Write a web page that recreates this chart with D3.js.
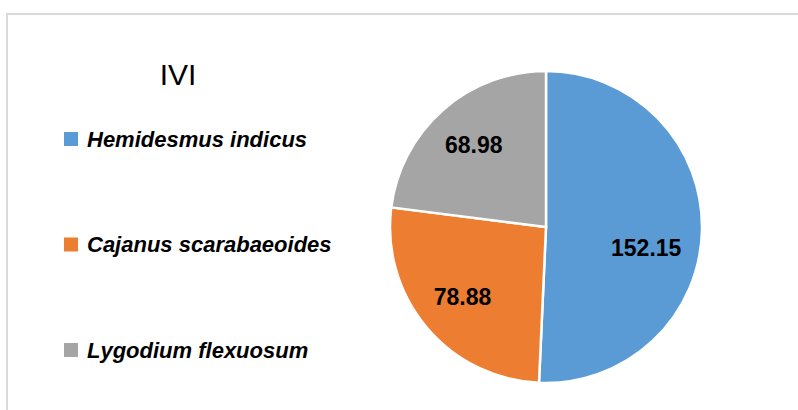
<!DOCTYPE html>
<html lang="en">
<head>
    <meta charset="UTF-8">
    <title>IVI</title>
    <script src="https://cdnjs.cloudflare.com/ajax/libs/d3/7.8.2/d3.min.js"></script>
    <style>
        body { margin: 0; background: #fff; }
        svg { display: block; font-family: "Liberation Sans", Arial, sans-serif; }
    </style>
</head>
<body>
    <div id="chart"></div>
    <script>
        // data
        const species = ["Hemidesmus indicus", "Cajanus scarabaeoides", "Lygodium flexuosum"];
        const ivi = [152.15, 78.88, 68.98];
        const colors = ["#5B9BD5", "#ED7D31", "#A5A5A5"];
        const title = "IVI";

        const width = 798, height = 410;
        const svg = d3.select("#chart").append("svg")
            .attr("width", width)
            .attr("height", height);

        // chart area border (runs off right and bottom edges)
        svg.append("rect")
            .attr("x", 7).attr("y", 14)
            .attr("width", 820).attr("height", 420)
            .attr("fill", "none")
            .attr("stroke", "#d9d9d9")
            .attr("stroke-width", 2);

        svg.append("text")
            .attr("x", 178).attr("y", 85)
            .attr("text-anchor", "middle")
            .attr("font-size", 30)
            .attr("fill", "#000")
            .text(title);

        // pie
        const cx = 546, cy = 227, r = 156;
        const data = species.map((s, i) => ({ name: s, value: ivi[i], color: colors[i] }));
        const pie = d3.pie().value(d => d.value).sort(null);
        const arc = d3.arc().innerRadius(0).outerRadius(r);
        const labelArc = d3.arc().innerRadius(r * 0.7).outerRadius(r * 0.7);

        const g = svg.append("g").attr("transform", `translate(${cx},${cy})`);
        const slices = g.selectAll("g.slice")
            .data(pie(data))
            .enter().append("g").attr("class", "slice");

        slices.append("path")
            .attr("d", arc)
            .attr("fill", d => d.data.color)
            .attr("stroke", "#fff")
            .attr("stroke-width", 2.5);

        // big slice label sits a bit lower, like the original
        slices.append("text")
            .attr("transform", d => {
                const [x, y] = labelArc.centroid(d);
                const nudge = (d.endAngle - d.startAngle) > Math.PI ? 18 : 0;
                return `translate(${x - nudge / 2},${y + nudge})`;
            })
            .attr("text-anchor", "middle")
            .attr("dy", "0.35em")
            .attr("font-size", 23)
            .attr("font-weight", "bold")
            .attr("fill", "#000")
            .text(d => d.data.value.toFixed(2));

        // legend
        const legendY = d3.scalePoint().domain(species).range([139, 350]);
        const legend = svg.selectAll("g.legend")
            .data(data)
            .enter().append("g")
            .attr("class", "legend")
            .attr("transform", d => `translate(64,${legendY(d.name)})`);

        legend.append("rect")
            .attr("x", 0).attr("y", -7)
            .attr("width", 14).attr("height", 14)
            .attr("fill", d => d.color);

        legend.append("text")
            .attr("x", 23).attr("y", 0)
            .attr("dy", "0.36em")
            .attr("font-size", 22)
            .attr("font-weight", "bold")
            .attr("font-style", "italic")
            .attr("fill", "#000")
            .text(d => d.name);
    </script>
</body>
</html>
